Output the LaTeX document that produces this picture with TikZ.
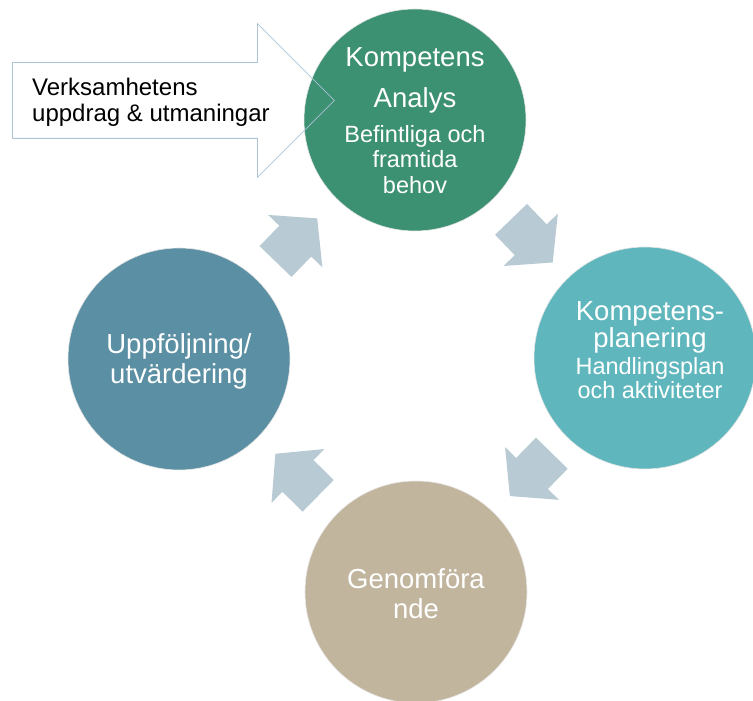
\documentclass[tikz,border=0pt]{standalone}
\usepackage{fontspec}
\setmainfont{Liberation Sans}
\usepackage{tikz}
\usetikzlibrary{shapes.arrows, calc, positioning}
\definecolor{Cyc-Green}{RGB}{61, 145, 115}
\definecolor{Cyc-Teal}{RGB}{95, 183, 189}
\definecolor{Cyc-Blue}{RGB}{91, 143, 163}
\definecolor{Cyc-Sand}{RGB}{193, 181, 158}
\definecolor{Cyc-Arrow}{RGB}{184, 202, 211}
\definecolor{Cyc-Line}{RGB}{172, 196, 212}
\newcommand{\subfont}{\fontsize{23.5}{26}\selectfont}

\tikzset{
    stage/.style={circle, draw=black!10, line width=0.6pt, minimum size=222pt, inner sep=0pt},
    stagetext/.style={text=white, align=center, inner sep=0pt, font=\fontsize{27.5}{31}\selectfont},
    cyclearrow/.style={single arrow, fill=Cyc-Arrow, minimum height=60pt, minimum width=75pt,
	single arrow head extend=15.5pt, single arrow tip angle=100, inner xsep=0pt, inner ysep=22pt},
}

\begin{document}
\begin{tikzpicture}[x=1pt, y=1pt]

    \useasboundingbox (0,0) rectangle (753,701);

    \node[stage, fill=Cyc-Green] (analys) at (415,581) {};
    \node[stage, fill=Cyc-Teal] (planering) at (645,343) {};
    \node[stage, fill=Cyc-Sand] (genomf) at (416,109) {};
    \node[stage, fill=Cyc-Blue] (uppfolj) at (179,342) {};

    \node[stagetext] (analys-text) at ([yshift=-1pt]analys.center)
	{Kompetens\\[10pt]Analys\\[4pt]{\subfont Befintliga och}\\[-6pt]{\subfont framtida}\\[-5pt]{\subfont behov}};
    \node[stagetext] (planering-text) at ([xshift=5pt, yshift=8pt]planering.center)
	{Kompetens-\\[-4pt]planering\\[-4pt]{\subfont Handlingsplan}\\[-7pt]{\subfont och aktiviteter}};
    \node[stagetext] (genomf-text) at ([yshift=-1.5pt]genomf.center) {Genomföra\\[-1pt]nde};
    \node[stagetext] (uppfolj-text) at ([yshift=-2pt]uppfolj.center) {Uppföljning/\\[-1pt]utvärdering};

    \node[cyclearrow, rotate=46] (pil-a) at ($(uppfolj)!0.47!(analys)$) {};
    \node[cyclearrow, rotate=-46] (pil-b) at ($(analys)!0.48!(planering)$) {};
    \node[cyclearrow, rotate=225.6] (pil-c) at ($(planering)!0.47!(genomf)$) {};
    \node[cyclearrow, rotate=135.5] (pil-d) at ($(genomf)!0.475!(uppfolj)$) {};

    \node[single arrow, draw=Cyc-Line, line width=0.8pt, minimum height=322pt, minimum width=153pt,
	single arrow head extend=39pt, inner xsep=0pt, inner ysep=37.5pt, anchor=tail] (uppdrag) at (12,600.5) {};
    \node[anchor=west, align=left, inner sep=0pt, font=\fontsize{24}{26}\selectfont] (uppdrag-text)
	at ([xshift=20pt, yshift=-2pt]uppdrag.tail) {Verksamhetens\\uppdrag \& utmaningar};

\end{tikzpicture}
\end{document}
